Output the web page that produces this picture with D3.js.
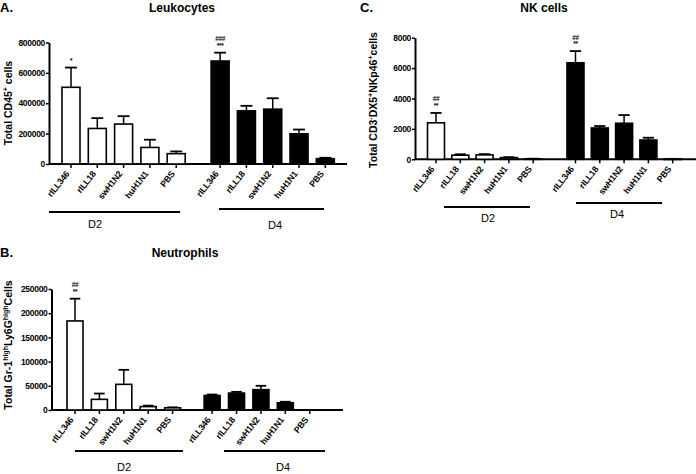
<!DOCTYPE html>
<html>
<head>
<meta charset="utf-8">
<script src="https://cdn.jsdelivr.net/npm/d3@7"></script>
<style>
  body { margin: 0; background: #fff; }
  svg { font-family: "Liberation Sans", Arial, sans-serif; }
</style>
</head>
<body>
<svg id="chart" width="696" height="474"></svg>
<script>
// categories shared by all three panels
const categories = ["rILL346", "rILL18", "swH1N2", "huH1N1", "PBS"];
const groups = ["D2", "D4"];

// A. Leukocytes (mean, SEM)
const leukD2 = [505000, 234000, 263000, 109000, 68000];
const leukD2Err = [130000, 68000, 52000, 51000, 15000];
const leukD4 = [678000, 350000, 361000, 199000, 35000];
const leukD4Err = [55000, 33000, 72000, 28000, 6000];
const leukTicks = [0, 200000, 400000, 600000, 800000];

// B. Neutrophils
const neutD2 = [184000, 22000, 53000, 7000, 4500];
const neutD2Err = [46000, 12000, 30000, 2000, 1000];
const neutD4 = [30000, 35000, 42000, 15000, 0];
const neutD4Err = [2000, 2500, 8000, 2000, 0];
const neutTicks = [0, 50000, 100000, 150000, 200000, 250000];

// C. NK cells
const nkD2 = [2400, 270, 290, 110, 30];
const nkD2Err = [650, 60, 50, 30, 10];
const nkD4 = [6350, 2060, 2370, 1270, 20];
const nkD4Err = [770, 130, 540, 150, 10];
const nkTicks = [0, 2000, 4000, 6000, 8000];

const svg = d3.select("#chart");

function drawPanel(cfg) {
    const g = svg.append("g");
    const y = d3.scaleLinear().domain([0, cfg.max]).range([cfg.y0, cfg.yTop]);
    // slot index -> pixel; D4 group shifted by a gap
    const x = d3.scaleLinear().domain([0, 1]).range([cfg.x0, cfg.x0 + cfg.step]);
    const gap = cfg.gap;

    const bars = [];
    categories.forEach((c, i) => bars.push({ cat: c, grp: 0, slot: i, v: cfg.d2[i], e: cfg.d2e[i] }));
    categories.forEach((c, i) => bars.push({ cat: c, grp: 1, slot: i + gap, v: cfg.d4[i], e: cfg.d4e[i] }));

    // panel letter + title
    g.append("text").attr("x", cfg.letterX).attr("y", cfg.titleY)
        .attr("font-size", 13).attr("font-weight", "bold").text(cfg.letter);
    g.append("text").attr("x", cfg.titleX).attr("y", cfg.titleY)
        .attr("text-anchor", "middle").attr("font-size", 12).attr("font-weight", "bold")
        .text(cfg.title);

    // y axis
    const yAxis = g.append("g")
        .attr("transform", `translate(${cfg.axisX},0)`)
        .call(d3.axisLeft(y).tickValues(cfg.ticks).tickSize(3).tickSizeOuter(0).tickFormat(d3.format("d")));
    yAxis.select(".domain").attr("stroke-width", 2);
    yAxis.selectAll(".tick line").attr("stroke-width", 1.5);
    yAxis.selectAll(".tick text")
        .attr("font-size", 8.5).attr("font-weight", "bold")
        .attr("font-family", "Liberation Sans, Arial, sans-serif")
        .attr("letter-spacing", -0.3).attr("x", -4);

    // x axis baseline
    g.append("line")
        .attr("x1", cfg.axisX).attr("x2", cfg.xEnd)
        .attr("y1", cfg.y0).attr("y2", cfg.y0)
        .attr("stroke", "#000").attr("stroke-width", 2);

    // x ticks
    g.selectAll(".xt").data(bars).join("line")
        .attr("x1", d => x(d.slot)).attr("x2", d => x(d.slot))
        .attr("y1", cfg.y0).attr("y2", cfg.y0 + 4)
        .attr("stroke", "#000").attr("stroke-width", 1.5);

    // error bars (upper only)
    const eb = bars.filter(d => d.v > 0);
    g.selectAll(".err").data(eb).join("line")
        .attr("x1", d => x(d.slot)).attr("x2", d => x(d.slot))
        .attr("y1", d => y(d.v)).attr("y2", d => y(d.v + d.e))
        .attr("stroke", "#000").attr("stroke-width", 1.5);
    g.selectAll(".cap").data(eb).join("line")
        .attr("x1", d => x(d.slot) - cfg.barW * 0.33).attr("x2", d => x(d.slot) + cfg.barW * 0.33)
        .attr("y1", d => y(d.v + d.e)).attr("y2", d => y(d.v + d.e))
        .attr("stroke", "#000").attr("stroke-width", 1.8);

    // bars
    g.selectAll(".bar").data(eb).join("rect")
        .attr("x", d => x(d.slot) - cfg.barW / 2)
        .attr("y", d => y(d.v))
        .attr("width", cfg.barW)
        .attr("height", d => Math.max(0.5, cfg.y0 - y(d.v)))
        .attr("fill", d => d.grp === 0 ? "#fff" : "#000")
        .attr("stroke", "#000").attr("stroke-width", 1.6);

    // category labels
    g.selectAll(".lab").data(bars).join("text")
        .attr("transform", d => `translate(${x(d.slot) - 1},${cfg.y0 + 10}) rotate(-52)`)
        .attr("text-anchor", "end")
        .attr("font-size", 8.8).attr("font-weight", "bold")
        .attr("letter-spacing", -0.2)
        .text(d => d.cat);

    // group lines and labels
    cfg.groupLines.forEach((gl, i) => {
        g.append("line").attr("x1", gl[0]).attr("x2", gl[1])
            .attr("y1", gl[2]).attr("y2", gl[2])
            .attr("stroke", "#000").attr("stroke-width", 2.2);
        g.append("text").attr("x", gl[3]).attr("y", gl[4])
            .attr("text-anchor", "middle").attr("font-size", 11)
            .text(groups[i]);
    });

    // significance marks
    cfg.marks.forEach(m => {
        const b = bars.find(d => d.grp === m.grp && d.slot === (m.grp ? m.i + gap : m.i));
        const top = y(b.v + b.e);
        m.lines.forEach((t, k) => {
            g.append("text")
                .attr("x", x(b.slot)).attr("y", top - 5 - (m.lines.length - 1 - k) * 6.5)
                .attr("text-anchor", "middle").attr("font-size", 6.5).attr("font-weight", "bold")
                .attr("letter-spacing", -0.3)
                .text(t);
        });
    });

    // y-axis label
    const yl = g.append("text")
        .attr("transform", `translate(${cfg.ylabX},${cfg.ylabY}) rotate(-90)`)
        .attr("text-anchor", "middle").attr("font-size", 10.5).attr("font-weight", "bold");
    cfg.ylab.forEach(p => {
        const t = yl.append("tspan").text(p[0]);
        if (p[1] === "sup") t.attr("font-size", 7).attr("dy", -4);
        else if (p[2]) t.attr("dy", 4);
    });
}

drawPanel({
    letter: "A.", letterX: 0, title: "Leukocytes", titleX: 182, titleY: 12,
    axisX: 49, xEnd: 347, y0: 164, yTop: 42.5, max: 800000, ticks: leukTicks,
    x0: 71, step: 26.3, gap: 5.67, barW: 18,
    d2: leukD2, d2e: leukD2Err, d4: leukD4, d4e: leukD4Err,
    groupLines: [[49, 180, 212, 95, 228], [219, 324, 209, 275, 229]],
    marks: [{ grp: 0, i: 0, lines: ["*"] }, { grp: 1, i: 0, lines: ["###", "***"] }],
    ylabX: 12, ylabY: 103,
    ylab: [["Total CD45"], ["+", "sup"], [" cells", null, true]]
});

drawPanel({
    letter: "B.", letterX: 0, title: "Neutrophils", titleX: 185, titleY: 257,
    axisX: 51.5, xEnd: 343, y0: 410, yTop: 289, max: 250000, ticks: neutTicks,
    x0: 75, step: 24.4, gap: 5.62, barW: 16,
    d2: neutD2, d2e: neutD2Err, d4: neutD4, d4e: neutD4Err,
    groupLines: [[75, 183, 451, 124, 471], [224, 325, 451, 283, 471]],
    marks: [{ grp: 0, i: 0, lines: ["##", "**"] }],
    ylabX: 12, ylabY: 345,
    ylab: [["Total Gr-1"], ["high", "sup"], ["Ly6G", null, true], ["high", "sup"], ["Cells", null, true]]
});

drawPanel({
    letter: "C.", letterX: 360, title: "NK cells", titleX: 544, titleY: 12,
    axisX: 415, xEnd: 696, y0: 159.3, yTop: 37.7, max: 8000, ticks: nkTicks,
    x0: 436, step: 24.3, gap: 5.74, barW: 17,
    d2: nkD2, d2e: nkD2Err, d4: nkD4, d4e: nkD4Err,
    groupLines: [[444, 530, 207, 488, 222], [576, 662, 203, 617, 218]],
    marks: [{ grp: 0, i: 0, lines: ["##", "**"] }, { grp: 1, i: 0, lines: ["##", "**"] }],
    ylabX: 377, ylabY: 100,
    ylab: [["Total CD3"], ["-", "sup"], ["DX5", null, true], ["+", "sup"], ["NKp46", null, true], ["+", "sup"], ["cells", null, true]]
});
</script>
</body>
</html>
